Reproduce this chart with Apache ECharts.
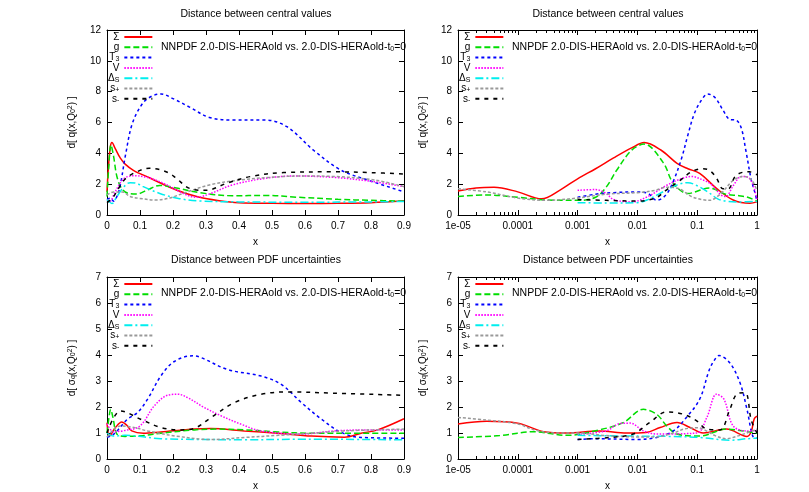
<!DOCTYPE html>
<html>
<head>
<meta charset="utf-8">
<script src="https://cdn.jsdelivr.net/npm/echarts@6/dist/echarts.min.js"></script>
<style>
html, body { margin: 0; padding: 0; background: #fff; }
#chartArea { width: 809px; height: 492px; }
</style>
</head>
<body>
<div id="chartArea"></div>
<script>
// series names, in gnuplot drawing order
var seriesNames = ['Σ', 'g', 'T3', 'V', 'ΔS', 's+', 's-'];
var logTickLabels = ['1e-05', '0.0001', '0.001', '0.01', '0.1', '1'];

// distance between central values, linear x
var cvLinSigma = [[0,1.5],[0.004,3.0],[0.01,4.4],[0.015,4.7],[0.025,4.3],[0.04,3.7],[0.055,3.3],[0.08,2.9],[0.13,2.4],[0.21,1.62],[0.28,1.15],[0.34,0.93],[0.4,0.8],[0.5,0.76],[0.6,0.75],[0.7,0.76],[0.8,0.8],[0.9,0.92]];
var cvLinG = [[0,1.2],[0.005,3.0],[0.012,4.55],[0.02,3.8],[0.03,2.5],[0.045,1.7],[0.065,1.4],[0.09,1.36],[0.12,1.6],[0.16,1.92],[0.21,1.75],[0.28,1.45],[0.38,1.25],[0.48,1.27],[0.58,1.15],[0.7,1.02],[0.8,0.95],[0.9,0.9]];
var cvLinT3 = [[0,1.0],[0.01,1.1],[0.02,0.9],[0.03,1.2],[0.04,1.9],[0.057,4.0],[0.077,5.95],[0.108,7.24],[0.135,7.7],[0.164,7.85],[0.2,7.55],[0.25,7.0],[0.31,6.33],[0.38,6.16],[0.48,6.16],[0.545,5.73],[0.626,4.2],[0.708,2.92],[0.79,2.27],[0.9,1.5]];
var cvLinV = [[0,1.0],[0.01,0.9],[0.02,1.3],[0.035,1.9],[0.052,2.38],[0.08,2.55],[0.12,2.45],[0.16,2.16],[0.2,1.75],[0.23,1.4],[0.27,1.15],[0.31,1.36],[0.38,1.95],[0.48,2.38],[0.565,2.53],[0.687,2.44],[0.81,2.16],[0.9,1.84]];
var cvLinDS = [[0,1.0],[0.015,0.75],[0.03,1.2],[0.05,1.8],[0.07,2.1],[0.09,2.05],[0.11,1.84],[0.16,1.4],[0.22,1.06],[0.28,0.91],[0.4,0.85],[0.6,0.83],[0.8,0.85],[0.9,0.88]];
var cvLinSp = [[0,1.3],[0.02,1.5],[0.046,1.5],[0.07,1.2],[0.098,1.08],[0.148,0.97],[0.19,1.1],[0.23,1.4],[0.31,1.95],[0.403,2.27],[0.5,2.45],[0.586,2.53],[0.687,2.5],[0.81,2.27],[0.9,1.84]];
var cvLinSm = [[0,0.8],[0.02,1.2],[0.04,1.9],[0.057,2.38],[0.09,2.8],[0.128,3.03],[0.159,2.95],[0.19,2.7],[0.21,2.38],[0.25,1.73],[0.3,1.6],[0.362,2.05],[0.433,2.49],[0.535,2.75],[0.687,2.8],[0.8,2.75],[0.9,2.66]];

// distance between central values, log x
var cvLogSigma = [[1e-5,1.55],[2e-5,1.75],[4e-5,1.8],[1e-4,1.5],[2.5e-4,1.05],[5e-4,1.6],[1e-3,2.35],[2e-3,3.0],[4e-3,3.7],[8e-3,4.35],[1.3e-2,4.7],[2.5e-2,4.2],[4.6e-2,3.35],[0.07,3.0],[0.11,2.7],[0.21,1.73],[0.4,0.97],[0.76,0.76],[1,0.85]];
var cvLogG = [[1e-5,1.2],[3e-5,1.3],[1e-4,1.15],[3e-4,0.98],[1e-3,0.95],[2e-3,1.15],[3e-3,1.8],[4.5e-3,2.9],[8e-3,4.2],[1.3e-2,4.6],[2.7e-2,3.4],[4e-2,2.05],[7e-2,1.4],[0.16,1.75],[0.3,1.35],[0.5,1.25],[0.7,1.15],[1,0.9]];
var cvLogT3 = [[1e-3,1.15],[2e-3,1.35],[4e-3,1.45],[1e-2,1.5],[1.5e-2,1.4],[2.1e-2,0.95],[3e-2,1.3],[4e-2,2.2],[5.5e-2,3.7],[7e-2,5.2],[9e-2,6.6],[0.12,7.5],[0.15,7.85],[0.2,7.6],[0.27,6.8],[0.35,6.2],[0.45,6.15],[0.55,5.6],[0.65,4.2],[0.8,2.3],[0.9,1.6],[1,0.9]];
var cvLogV = [[1e-3,1.6],[2e-3,1.65],[3e-3,1.4],[4e-3,1.0],[8e-3,0.85],[1.5e-2,1.2],[3e-2,1.9],[5e-2,2.3],[8e-2,2.5],[0.12,2.3],[0.17,2.0],[0.25,1.3],[0.3,1.2],[0.4,1.9],[0.55,2.5],[0.7,2.45],[0.85,2.0],[1,1.0]];
var cvLogDS = [[1e-3,0.8],[3e-3,0.78],[1e-2,0.8],[1.5e-2,1.0],[3e-2,1.6],[5e-2,2.0],[7e-2,2.1],[0.1,1.9],[0.15,1.5],[0.22,1.05],[0.3,0.9],[0.5,0.85],[1,0.88]];
var cvLogSp = [[1e-5,1.7],[3e-5,1.5],[1e-4,1.1],[3e-4,0.95],[1e-3,1.1],[3e-3,1.35],[1e-2,1.45],[2e-2,1.6],[3e-2,1.8],[5e-2,1.7],[0.08,1.2],[0.12,1.0],[0.16,0.95],[0.25,1.4],[0.4,2.25],[0.6,2.5],[0.8,2.3],[1,1.6]];
var cvLogSm = [[1e-3,1.0],[3e-3,0.95],[1e-2,0.9],[2e-2,1.1],[3e-2,1.6],[5e-2,2.2],[8e-2,2.8],[0.12,3.0],[0.16,2.9],[0.21,2.4],[0.27,1.7],[0.33,1.7],[0.43,2.5],[0.55,2.75],[0.75,2.8],[1,2.6]];

// distance between PDF uncertainties, linear x
var unLinSigma = [[0,1.4],[0.008,0.88],[0.025,1.2],[0.045,1.42],[0.06,1.3],[0.075,1.08],[0.11,0.99],[0.163,1.04],[0.265,1.15],[0.315,1.17],[0.416,1.08],[0.517,0.99],[0.62,0.88],[0.72,0.84],[0.77,0.99],[0.82,1.12],[0.9,1.55]];
var unLinG = [[0,1.0],[0.006,1.6],[0.011,1.91],[0.018,1.6],[0.03,0.96],[0.055,0.87],[0.11,0.9],[0.163,0.99],[0.265,1.12],[0.326,1.15],[0.42,1.12],[0.52,1.04],[0.62,0.99],[0.77,0.99],[0.9,0.99]];
var unLinT3 = [[0,0.83],[0.021,0.96],[0.062,1.53],[0.092,1.78],[0.123,2.3],[0.163,3.19],[0.204,3.75],[0.26,3.97],[0.285,3.9],[0.366,3.44],[0.467,3.19],[0.528,2.87],[0.589,2.17],[0.65,1.53],[0.71,1.02],[0.77,0.83],[0.9,0.8]];
var unLinV = [[0,1.35],[0.02,1.05],[0.055,1.1],[0.1,1.27],[0.143,2.04],[0.183,2.45],[0.215,2.49],[0.244,2.36],[0.295,1.98],[0.346,1.66],[0.406,1.34],[0.467,1.08],[0.59,0.96],[0.69,1.08],[0.8,1.12],[0.9,1.12]];
var unLinDS = [[0,1.0],[0.02,0.88],[0.055,0.91],[0.163,0.78],[0.3,0.75],[0.42,0.74],[0.6,0.76],[0.9,0.74]];
var unLinSp = [[0,0.85],[0.04,1.27],[0.082,1.21],[0.123,1.08],[0.21,0.88],[0.315,0.75],[0.42,0.83],[0.52,0.91],[0.62,0.99],[0.72,1.08],[0.9,1.15]];
var unLinSm = [[0,1.0],[0.042,1.85],[0.102,1.53],[0.163,1.21],[0.224,1.12],[0.265,1.18],[0.315,1.59],[0.386,2.17],[0.467,2.49],[0.548,2.58],[0.69,2.53],[0.9,2.45]];

// distance between PDF uncertainties, log x
var unLogSigma = [[1e-5,1.35],[3e-5,1.45],[1e-4,1.38],[2.7e-4,1.05],[6.6e-4,1.0],[2.3e-3,1.08],[6.6e-3,1.0],[1.4e-2,1.02],[2.4e-2,1.21],[4.6e-2,1.4],[7.6e-2,1.21],[0.126,1.0],[0.31,1.15],[0.68,0.87],[0.8,1.05],[0.9,1.55],[1,1.65]];
var unLogG = [[1e-5,0.83],[5e-5,0.9],[1.8e-4,1.05],[6.6e-4,0.91],[2.3e-3,1.12],[5.8e-3,1.4],[1.26e-2,1.91],[2.1e-2,1.72],[3.1e-2,1.27],[4.6e-2,0.96],[0.11,0.88],[0.31,1.15],[0.7,1.05],[1,0.99]];
var unLogT3 = [[1e-3,0.75],[2e-3,0.78],[1e-2,0.75],[2.1e-2,0.83],[4e-2,1.08],[6.6e-2,1.6],[0.11,2.3],[0.16,3.44],[0.2,3.85],[0.23,3.98],[0.35,3.7],[0.52,2.93],[0.68,1.91],[0.87,0.83],[1,0.8]];
var unLogV = [[1e-3,0.95],[3e-3,1.08],[5e-3,1.36],[7.6e-3,1.38],[1.26e-2,1.08],[2.1e-2,0.96],[9.8e-2,1.0],[0.145,1.6],[0.21,2.49],[0.28,2.3],[0.4,1.27],[0.68,1.08],[1,1.1]];
var unLogDS = [[1e-3,0.91],[1e-2,0.88],[3.1e-2,0.87],[0.11,0.83],[0.35,0.72],[0.68,0.78],[1,0.8]];
var unLogSp = [[1e-5,1.6],[3e-5,1.5],[1e-4,1.35],[2e-4,1.1],[5e-4,1.0],[1e-3,1.0],[3e-3,0.9],[1e-2,0.85],[2e-2,0.85],[4e-2,1.0],[6e-2,1.15],[0.1,1.2],[0.2,0.9],[0.3,0.78],[0.5,0.9],[1,1.15]];
var unLogSm = [[1e-3,0.75],[3.5e-3,0.83],[8.5e-3,0.96],[1.6e-2,1.4],[3.1e-2,1.81],[5.9e-2,1.72],[9.8e-2,1.47],[0.145,1.15],[0.24,1.12],[0.35,1.9],[0.46,2.5],[0.6,2.55],[0.68,2.5],[0.8,1.5],[1,1.0]];

var FONT = 'Liberation Sans';
var styles = {
    'Σ':  { color: '#ff0000', type: 'solid' },
    'g':  { color: '#00dd00', type: [6, 3] },
    'T3': { color: '#0000ff', type: [3, 3] },
    'V':  { color: '#ff00ff', type: [1.5, 1.5] },
    'ΔS': { color: '#00eeee', type: [8, 3, 2, 3] },
    's+': { color: '#999999', type: [3, 2] },
    's-': { color: '#000000', type: [4, 5] }
};
var legendLabels = {
    'Σ': '{b|Σ}', 'g': '{b|g}', 'T3': '{b|T}{sub|3}', 'V': '{b|V}',
    'ΔS': '{b|Δ}{sub|S}', 's+': '{b|s}{sub|+}', 's-': '{b|s}{sub|-}'
};
var richText = {
    b:   { fontSize: 10, fontFamily: FONT, color: '#000', lineHeight: 10, verticalAlign: 'middle' },
    t:   { fontSize: 10.5, fontFamily: FONT, color: '#000', lineHeight: 12, verticalAlign: 'middle' },
    sub: { fontSize: 7, fontFamily: FONT, color: '#000', lineHeight: 6, verticalAlign: 'bottom' },
    sup: { fontSize: 7, fontFamily: FONT, color: '#000', lineHeight: 6, verticalAlign: 'top' }
};

var grids = [
    { left: 107, top: 30, width: 297, height: 185 },
    { left: 458, top: 30, width: 299, height: 185 },
    { left: 107, top: 277, width: 297, height: 183 },
    { left: 458, top: 277, width: 299, height: 183 }
];

function xAxisOf(gi, isLog, pos) {
    var bottom = pos === 'bottom';
    var ax = {
        type: isLog ? 'log' : 'value',
        gridIndex: gi,
        position: pos,
        min: isLog ? 1e-5 : 0,
        max: isLog ? 1 : 0.9,
        axisLine: { show: true, onZero: false, lineStyle: { color: '#000', width: 1 } },
        axisTick: { show: true, inside: true, length: 5, lineStyle: { color: '#000' } },
        axisLabel: { show: bottom, color: '#000', fontSize: 10, fontFamily: FONT, margin: 6 },
        splitLine: { show: false },
        name: bottom ? 'x' : '',
        nameLocation: 'middle',
        nameGap: 22,
        nameTextStyle: { color: '#000', fontSize: 10, fontFamily: FONT }
    };
    if (isLog) {
        ax.logBase = 10;
        ax.minorTick = { show: true, splitNumber: 9, length: 3, lineStyle: { color: '#000' } };
        ax.axisLabel.formatter = function(v) {
            return logTickLabels[Math.round(Math.log(v) / Math.LN10) + 5];
        };
    } else {
        ax.interval = 0.1;
    }
    return ax;
}

function yAxisOf(gi, top, pos) {
    var left = pos === 'left';
    return {
        type: 'value',
        gridIndex: gi,
        position: pos,
        min: 0,
        max: top ? 12 : 7,
        interval: top ? 2 : 1,
        axisLine: { show: true, onZero: false, lineStyle: { color: '#000', width: 1 } },
        axisTick: { show: true, inside: true, length: 5, lineStyle: { color: '#000' } },
        axisLabel: { show: left, color: '#000', fontSize: 10, fontFamily: FONT, margin: 6 },
        splitLine: { show: false },
        name: left ? (top ? 'd[ q(x,Q{sub|0}{sup|2}) ]' : 'd[ σ{sub|q}(x,Q{sub|0}{sup|2}) ]') : '',
        nameLocation: 'middle',
        nameRotate: 90,
        nameGap: 30,
        nameTextStyle: { color: '#000', fontSize: 10, fontFamily: FONT, rich: richText }
    };
}

var panelData = [
    [cvLinSigma, cvLinG, cvLinT3, cvLinV, cvLinDS, cvLinSp, cvLinSm],
    [cvLogSigma, cvLogG, cvLogT3, cvLogV, cvLogDS, cvLogSp, cvLogSm],
    [unLinSigma, unLinG, unLinT3, unLinV, unLinDS, unLinSp, unLinSm],
    [unLogSigma, unLogG, unLogT3, unLogV, unLogDS, unLogSp, unLogSm]
];

var series = [];
panelData.forEach(function(list, gi) {
    list.forEach(function(data, k) {
        var name = seriesNames[k];
        series.push({
            name: name,
            type: 'line',
            xAxisIndex: gi,
            yAxisIndex: gi,
            data: data,
            symbol: 'none',
            smooth: 0.35,
            animation: false,
            lineStyle: { color: styles[name].color, type: styles[name].type, width: 1.5 },
            itemStyle: { color: styles[name].color }
        });
    });
});

function legendOf(left, top) {
    return {
        orient: 'vertical',
        left: left,
        top: top,
        align: 'right',
        padding: 0,
        itemGap: 0.3,
        itemWidth: 28,
        itemHeight: 10,
        selectedMode: false,
        data: seriesNames,
        // hide the marker the line icon carries, keep only the line sample
        itemStyle: { color: 'rgba(0,0,0,0)', borderColor: 'rgba(0,0,0,0)', borderWidth: 0 },
        formatter: function(n) { return legendLabels[n]; },
        textStyle: { color: '#000', fontSize: 10, fontFamily: FONT, rich: richText }
    };
}

function textEl(x, y, text, align) {
    return {
        type: 'text',
        x: x,
        y: y,
        style: {
            text: text,
            fill: '#000',
            font: '10.5px ' + FONT,
            align: align,
            verticalAlign: 'middle',
            rich: richText
        }
    };
}

var note = '{t|NNPDF 2.0-DIS-HERAold vs. 2.0-DIS-HERAold-t}{sub|0}{t|=0}';

var myChart = echarts.init(document.getElementById('chartArea'));
myChart.setOption({
    animation: false,
    backgroundColor: '#fff',
    grid: grids,
    xAxis: [
        xAxisOf(0, false, 'bottom'), xAxisOf(1, true, 'bottom'),
        xAxisOf(2, false, 'bottom'), xAxisOf(3, true, 'bottom'),
        xAxisOf(0, false, 'top'), xAxisOf(1, true, 'top'),
        xAxisOf(2, false, 'top'), xAxisOf(3, true, 'top')
    ],
    yAxis: [
        yAxisOf(0, true, 'left'), yAxisOf(1, true, 'left'),
        yAxisOf(2, false, 'left'), yAxisOf(3, false, 'left'),
        yAxisOf(0, true, 'right'), yAxisOf(1, true, 'right'),
        yAxisOf(2, false, 'right'), yAxisOf(3, false, 'right')
    ],
    legend: [legendOf(108, 32), legendOf(459, 32), legendOf(108, 279), legendOf(459, 279)],
    graphic: [
        textEl(256, 14, '{t|Distance between central values}', 'center'),
        textEl(608, 14, '{t|Distance between central values}', 'center'),
        textEl(256, 260, '{t|Distance between PDF uncertainties}', 'center'),
        textEl(608, 260, '{t|Distance between PDF uncertainties}', 'center'),
        textEl(161, 47, note, 'left'),
        textEl(512, 47, note, 'left'),
        textEl(161, 293, note, 'left'),
        textEl(512, 293, note, 'left')
    ],
    series: series
});
</script>
</body>
</html>
